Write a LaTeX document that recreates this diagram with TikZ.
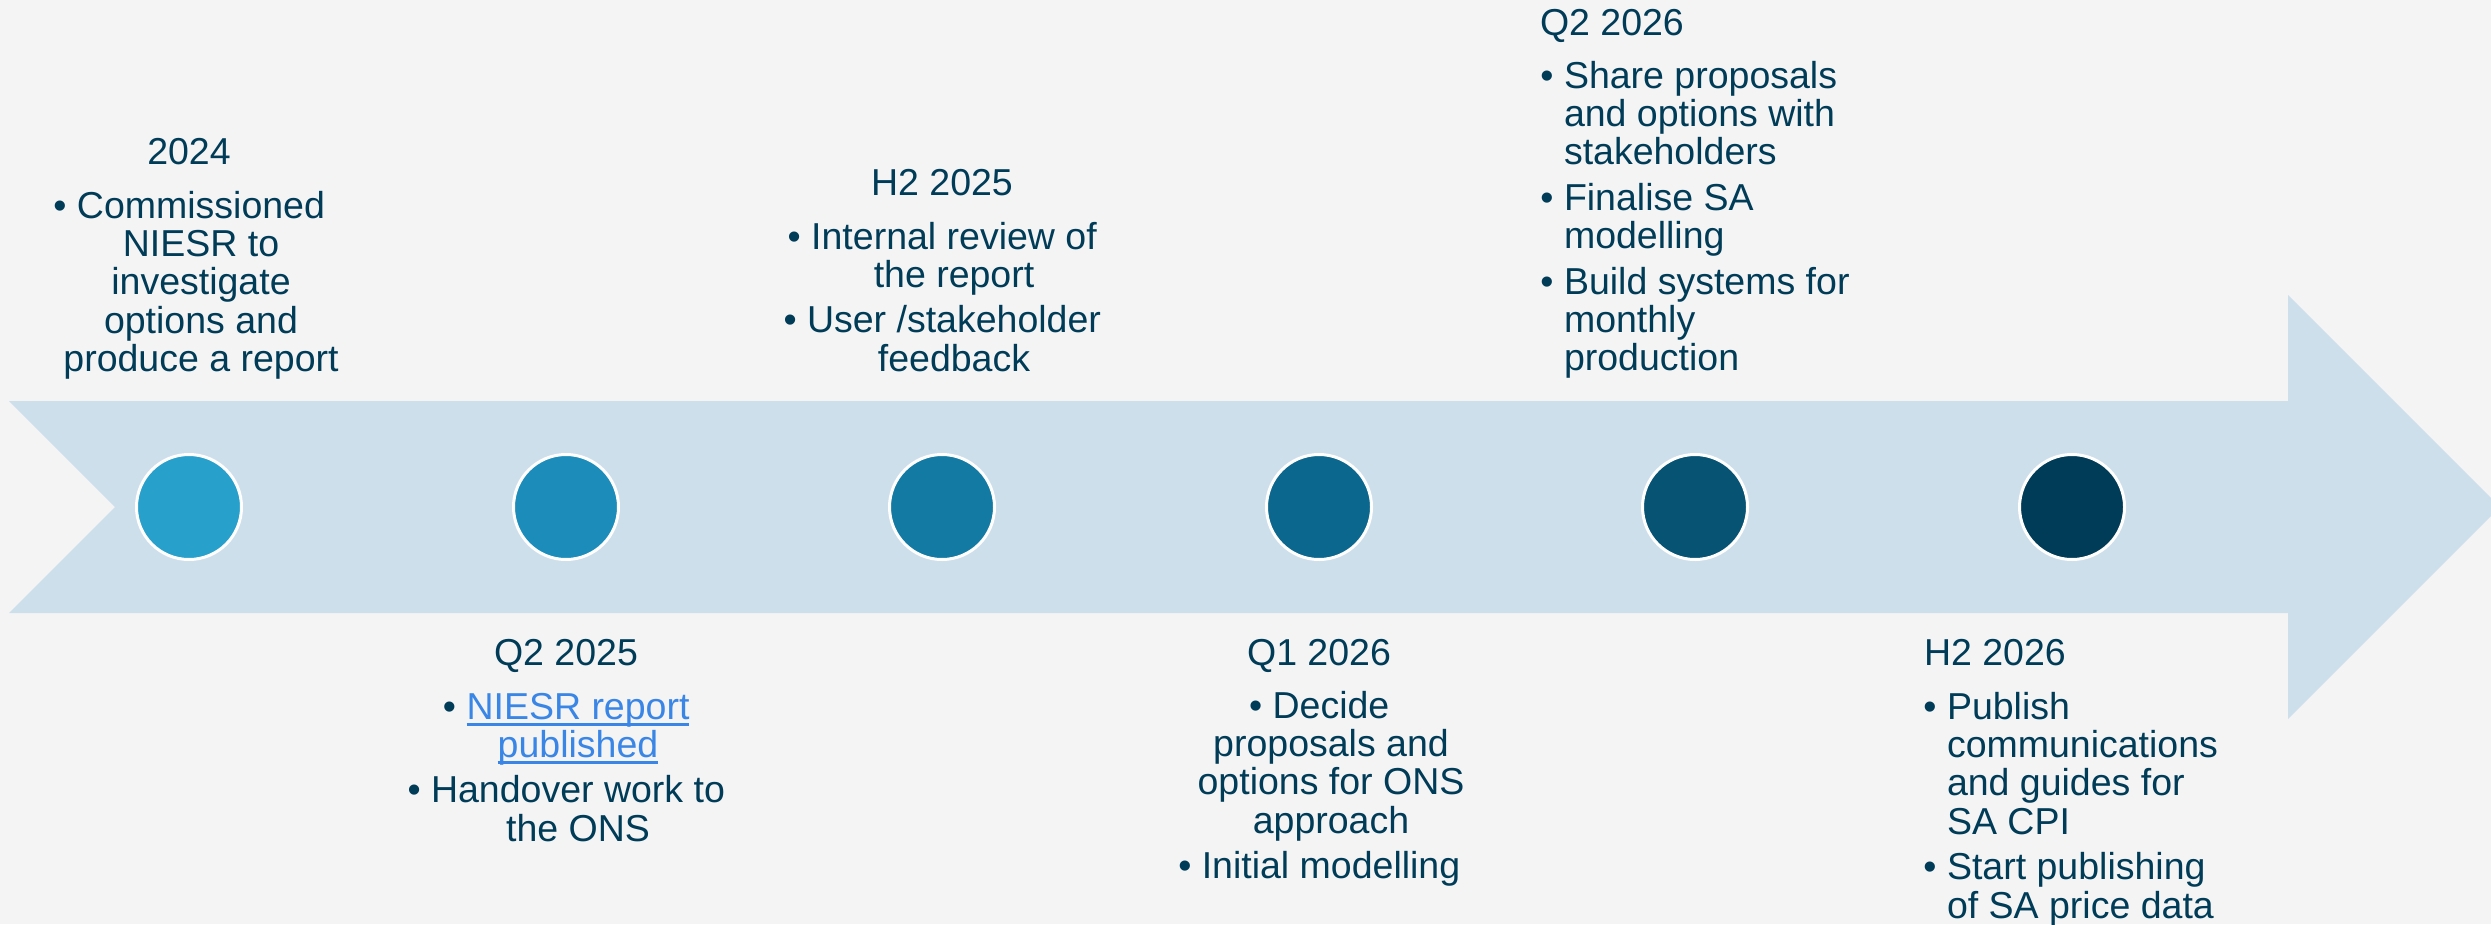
\documentclass[tikz,border=0pt]{standalone}
\usepackage{fontspec}
\setmainfont{Liberation Sans}

\definecolor{paper}{HTML}{F4F4F4}
\definecolor{band}{HTML}{CEDFEC}
\definecolor{ink}{HTML}{003C57}
\definecolor{linkc}{HTML}{3A86E6}
\definecolor{dotA}{HTML}{27A0CC}
\definecolor{dotB}{HTML}{1C8DBA}
\definecolor{dotC}{HTML}{127AA3}
\definecolor{dotD}{HTML}{0C678E}
\definecolor{dotE}{HTML}{075373}
\definecolor{dotF}{HTML}{003C57}

% bullet hung to the left of a line
\newcommand\bul{\llap{\textbullet\hspace{10.4pt}}}
% gap between two bullet items
\newcommand\gap{\noalign{\vskip7pt}}
% underlined link text
\newcommand\lnk[1]{{\color{linkc}\setbox0=\hbox{#1}\rlap{\rule[-7pt]{\wd0}{3pt}}\box0}}
% stacked lines, first baseline is the box baseline
\newcommand\cbody[1]{\vtop{\baselineskip=38.4pt\lineskiplimit=-\maxdimen
  \halign{\hfil##\hfil\cr#1\crcr}}}
\newcommand\lbody[1]{\vtop{\baselineskip=38.4pt\lineskiplimit=-\maxdimen
  \halign{##\hfil\cr#1\crcr}}}

\begin{document}
\begin{tikzpicture}[x=1pt,y=-1pt,
  txt/.style={inner sep=0pt, outer sep=0pt, text=ink,
    font=\fontsize{37.5}{38.4}\selectfont},
  head/.style={txt, anchor=base},
  lhead/.style={txt, anchor=base west},
  dot/.style={circle, draw=white, line width=3pt, minimum size=105pt,
    inner sep=0pt}]

  % canvas
  \fill[paper] (0,0) rectangle (2491,924);
  \useasboundingbox (0,0) rectangle (2491,924);
  \clip (0,0) rectangle (2491,924);

  % timeline arrow
  \fill[band] (9,401) -- (2288,401) -- (2288,295) -- (2500,507)
    -- (2288,719) -- (2288,613) -- (9,613) -- (115,507) -- cycle;

  % milestones
  \node[dot, fill=dotA] (m1) at (189,507) {};
  \node[dot, fill=dotB] (m2) at (566,507) {};
  \node[dot, fill=dotC] (m3) at (942,507) {};
  \node[dot, fill=dotD] (m4) at (1319,507) {};
  \node[dot, fill=dotE] (m5) at (1695,507) {};
  \node[dot, fill=dotF] (m6) at (2072,507) {};

  % 2024
  \node[head] (h1) at (189,164) {2024};
  \node[txt, anchor=base] (b1) at (201,218)
    {\cbody{\bul Commissioned\cr NIESR to\cr investigate\cr options and\cr produce a report}};

  % Q2 2025
  \node[head] (h2) at (566,665) {Q2 2025};
  \node[txt, anchor=base] (b2) at (578,719)
    {\cbody{\bul\lnk{NIESR report}\cr \lnk{published}\cr\gap \bul Handover work to\cr the ONS}};

  % H2 2025
  \node[head] (h3) at (942,195) {H2 2025};
  \node[txt, anchor=base] (b3) at (954,249)
    {\cbody{\bul Internal review of\cr the report\cr\gap \bul User /stakeholder\cr feedback}};

  % Q1 2026
  \node[head] (h4) at (1319,665) {Q1 2026};
  \node[txt, anchor=base] (b4) at (1331,718)
    {\cbody{\bul Decide\cr proposals and\cr options for ONS\cr approach\cr\gap \bul Initial modelling}};

  % Q2 2026
  \node[lhead] (h5) at (1540,35) {Q2 2026};
  \node[txt, anchor=base west] (b5) at (1564,88)
    {\lbody{\bul Share proposals\cr and options with\cr stakeholders\cr\gap
      \bul Finalise SA\cr modelling\cr\gap \bul Build systems for\cr monthly\cr production}};

  % H2 2026
  \node[lhead] (h6) at (1924,665) {H2 2026};
  \node[txt, anchor=base west] (b6) at (1947,719)
    {\lbody{\bul Publish\cr communications\cr and guides for\cr SA CPI\cr\gap
      \bul Start publishing\cr of SA price data}};
\end{tikzpicture}
\end{document}
